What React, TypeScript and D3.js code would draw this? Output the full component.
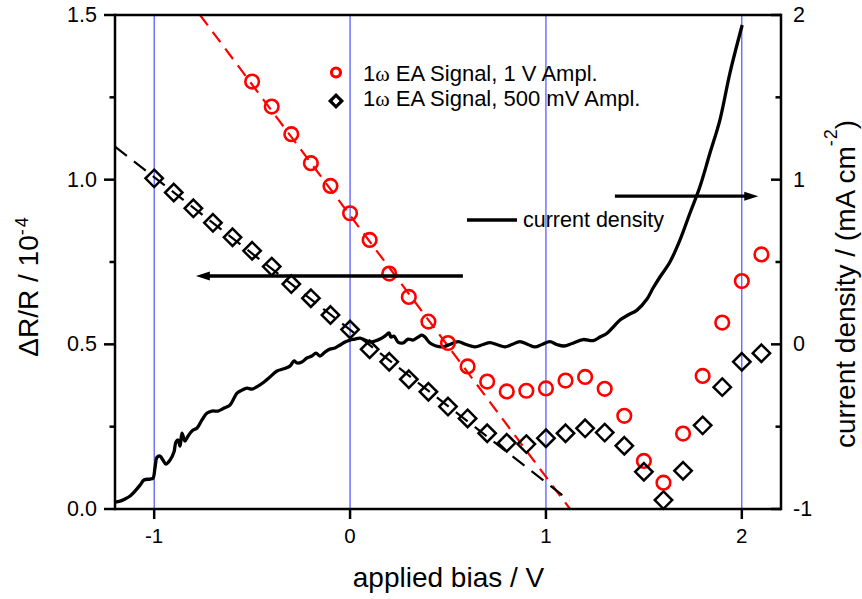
import React, { useEffect } from "react";
import * as d3 from "d3";

// ---------- data ----------
const biasCircles = [-0.5, -0.4, -0.3, -0.2, -0.1, 0, 0.1, 0.2, 0.3, 0.4, 0.5, 0.6, 0.7, 0.8, 0.9, 1.0, 1.1, 1.2, 1.3, 1.4, 1.5, 1.6, 1.7, 1.8, 1.9, 2.0, 2.1];
const signal1V = [1.298, 1.222, 1.138, 1.05, 0.981, 0.898, 0.817, 0.715, 0.644, 0.569, 0.504, 0.433, 0.387, 0.357, 0.359, 0.366, 0.39, 0.401, 0.365, 0.283, 0.146, 0.08, 0.229, 0.404, 0.566, 0.692, 0.773];

const biasDiamonds = [-1.0, -0.9, -0.8, -0.7, -0.6, -0.5, -0.4, -0.3, -0.2, -0.1, 0, 0.1, 0.2, 0.3, 0.4, 0.5, 0.6, 0.7, 0.8, 0.9, 1.0, 1.1, 1.2, 1.3, 1.4, 1.5, 1.6, 1.7, 1.8, 1.9, 2.0, 2.1];
const signal500mV = [1.004, 0.961, 0.913, 0.869, 0.825, 0.784, 0.736, 0.683, 0.64, 0.589, 0.545, 0.485, 0.447, 0.394, 0.356, 0.311, 0.275, 0.23, 0.201, 0.197, 0.215, 0.23, 0.245, 0.232, 0.192, 0.113, 0.027, 0.116, 0.254, 0.37, 0.447, 0.473];

const currentBias = [-1.2, -1.174, -1.149, -1.123, -1.098, -1.072, -1.052, -1.021, -1.006, -0.996, -0.985, -0.97, -0.955, -0.94, -0.919, -0.899, -0.889, -0.878, -0.868, -0.858, -0.843, -0.827, -0.807, -0.781, -0.756, -0.73, -0.705, -0.674, -0.643, -0.613, -0.592, -0.577, -0.552, -0.526, -0.501, -0.47, -0.439, -0.409, -0.373, -0.342, -0.307, -0.286, -0.271, -0.246, -0.22, -0.195, -0.174, -0.154, -0.128, -0.103, -0.077, -0.051, -0.026, -0.001, 0.025, 0.051, 0.076, 0.102, 0.127, 0.153, 0.178, 0.199, 0.209, 0.224, 0.245, 0.27, 0.296, 0.321, 0.347, 0.367, 0.382, 0.408, 0.439, 0.474, 0.51, 0.551, 0.592, 0.638, 0.679, 0.714, 0.755, 0.791, 0.826, 0.867, 0.908, 0.944, 0.98, 1.02, 1.056, 1.092, 1.133, 1.189, 1.24, 1.276, 1.312, 1.348, 1.378, 1.419, 1.465, 1.516, 1.547, 1.582, 1.633, 1.684, 1.735, 1.786, 1.837, 1.888, 1.939, 2.002];
const currentDensity = [-0.958, -0.952, -0.939, -0.921, -0.891, -0.855, -0.824, -0.818, -0.812, -0.751, -0.685, -0.679, -0.703, -0.727, -0.703, -0.654, -0.593, -0.581, -0.618, -0.539, -0.587, -0.557, -0.526, -0.508, -0.459, -0.417, -0.405, -0.405, -0.387, -0.369, -0.326, -0.296, -0.278, -0.266, -0.272, -0.254, -0.229, -0.199, -0.162, -0.15, -0.132, -0.101, -0.113, -0.107, -0.083, -0.071, -0.053, -0.071, -0.047, -0.029, -0.022, -0.004, 0.014, 0.026, 0.032, 0.038, 0.026, 0.014, 0.02, 0.032, 0.05, 0.069, 0.044, 0.05, 0.014, 0.008, 0.032, 0.026, 0.044, 0.056, 0.044, 0.008, -0.01, -0.015, -0.001, 0.016, -0.001, -0.015, -0.001, 0.01, -0.004, -0.015, -0.001, 0.016, -0.001, -0.015, -0.001, 0.016, -0.001, -0.01, 0.005, 0.029, 0.023, 0.044, 0.067, 0.111, 0.148, 0.178, 0.208, 0.275, 0.342, 0.409, 0.5, 0.633, 0.796, 0.957, 1.16, 1.362, 1.646, 1.939];

const fitRedBias = [-0.766, 1.123];
const fitRedSignal = [1.5, 0];
const fitBlackBias = [-1.2, 1.12];
const fitBlackSignal = [1.1, 0.025];

// annotation arrows in data units
const leftArrowBias = [0.576, -0.787];
const leftArrowSignal = 0.7075;
const rightArrowBias = [1.352, 2.084];
const rightArrowDensity = 0.9;

const xTicks = [-1, 0, 1, 2];
const xTickLabels = ["-1", "0", "1", "2"];
const leftTicks = [0, 0.5, 1.0, 1.5];
const leftTickLabels = ["0.0", "0.5", "1.0", "1.5"];
const leftMinor = [0.25, 0.75, 1.25];
const rightTicks = [-1, 0, 1, 2];
const rightTickLabels = ["-1", "0", "1", "2"];
const rightMinor = [-0.5, 0.5, 1.5];
const gridBias = [-1, 0, 1, 2];

const legendLabels = ["EA Signal, 1 V Ampl.", "EA Signal, 500 mV Ampl."];

// ---------- layout ----------
const W = 862;
const H = 599;
const L = 115;
const R = 781;
const T = 15;
const B = 509;
const FONT = "'Liberation Sans', Arial, Helvetica, sans-serif";

export default function App() {
  useEffect(() => {
    document.body.style.margin = "0";
  }, []);

  const x = d3.scaleLinear().domain([-1.2, 2.2]).range([L, R]);
  const yL = d3.scaleLinear().domain([0, 1.5]).range([B, T]);
  const yR = d3.scaleLinear().domain([-1, 2]).range([B, T]);

  const curveLine = d3
    .line<number>()
    .x((_, i) => x(currentBias[i]))
    .y((d) => yR(d))
    .curve(d3.curveCatmullRom.alpha(0.5));
  const curvePath = curveLine(currentDensity) || "";

  const fitLine = (bx: number[], by: number[]) =>
    d3.line<number>().x((_, i) => x(bx[i])).y((d) => yL(d))(by) || "";

  const diamond = (cx: number, cy: number, h: number) =>
    `M${cx},${cy - h}L${cx + h},${cy}L${cx},${cy + h}L${cx - h},${cy}Z`;

  const la0 = x(leftArrowBias[0]);
  const la1 = x(leftArrowBias[1]);
  const lay = yL(leftArrowSignal);
  const ra0 = x(rightArrowBias[0]);
  const ra1 = x(rightArrowBias[1]);
  const ray = yR(rightArrowDensity);

  return (
    <svg
      width={W}
      height={H}
      viewBox={`0 0 ${W} ${H}`}
      style={{ display: "block", background: "#fff" }}
      fontFamily={FONT}
    >
      <rect x={0} y={0} width={W} height={H} fill="#fff" />
      {/* grid lines */}
      {gridBias.map((g) => (
        <line key={g} x1={x(g)} x2={x(g)} y1={T} y2={B} stroke="#2b2bff" strokeWidth={1} />
      ))}

      {/* fit lines */}
      <path d={fitLine(fitRedBias, fitRedSignal)} fill="none" stroke="#ff0000" strokeWidth={2.2} strokeDasharray="13,8" />
      <path d={fitLine(fitBlackBias, fitBlackSignal)} fill="none" stroke="#000" strokeWidth={2.2} strokeDasharray="15,9" />

      {/* current density */}
      <path d={curvePath} fill="none" stroke="#000" strokeWidth={3.3} strokeLinejoin="round" />

      {/* markers */}
      {biasCircles.map((b, i) => (
        <circle key={"c" + i} cx={x(b)} cy={yL(signal1V[i])} r={6.8} fill="none" stroke="#ff0000" strokeWidth={2.6} />
      ))}
      {biasDiamonds.map((b, i) => (
        <path key={"d" + i} d={diamond(x(b), yL(signal500mV[i]), 8.7)} fill="none" stroke="#000" strokeWidth={2.5} />
      ))}

      {/* arrows */}
      <line x1={la0} x2={la1 + 12} y1={lay} y2={lay} stroke="#000" strokeWidth={3.3} />
      <path d={`M${la1},${lay}L${la1 + 14},${lay - 4.5}L${la1 + 14},${lay + 4.5}Z`} fill="#000" />
      <line x1={ra0} x2={ra1 - 12} y1={ray} y2={ray} stroke="#000" strokeWidth={3.3} />
      <path d={`M${ra1},${ray}L${ra1 - 14},${ray - 4.5}L${ra1 - 14},${ray + 4.5}Z`} fill="#000" />

      {/* frame */}
      <line x1={L} x2={R} y1={T} y2={T} stroke="#000" strokeWidth={2.5} />
      <line x1={L} x2={R} y1={B} y2={B} stroke="#000" strokeWidth={2.5} />
      <line x1={L} x2={L} y1={T - 1.2} y2={B + 1.2} stroke="#000" strokeWidth={2.5} />
      <line x1={R} x2={R} y1={T - 1.2} y2={B + 1.2} stroke="#000" strokeWidth={2.5} />

      {/* bottom ticks */}
      {xTicks.map((t, i) => (
        <g key={"xt" + t}>
          <line x1={x(t)} x2={x(t)} y1={B} y2={B + 10} stroke="#000" strokeWidth={2.5} />
          <text x={x(t)} y={543} fontSize={20.5} textAnchor="middle">{xTickLabels[i]}</text>
        </g>
      ))}

      {/* left ticks */}
      {leftTicks.map((t, i) => (
        <g key={"lt" + t}>
          <line x1={L - 11} x2={L} y1={yL(t)} y2={yL(t)} stroke="#000" strokeWidth={2.5} />
          <text x={97} y={yL(t)} fontSize={21.5} textAnchor="end" dominantBaseline="central">{leftTickLabels[i]}</text>
        </g>
      ))}
      {leftMinor.map((t) => (
        <line key={"lm" + t} x1={L - 5.5} x2={L} y1={yL(t)} y2={yL(t)} stroke="#000" strokeWidth={2.5} />
      ))}

      {/* right ticks (inward) */}
      {rightTicks.map((t, i) => (
        <g key={"rt" + t}>
          <line x1={R - 10} x2={R} y1={yR(t)} y2={yR(t)} stroke="#000" strokeWidth={2.5} />
          <text x={793} y={yR(t)} fontSize={21.5} textAnchor="start" dominantBaseline="central">{rightTickLabels[i]}</text>
        </g>
      ))}
      {rightMinor.map((t) => (
        <line key={"rm" + t} x1={R - 5.5} x2={R} y1={yR(t)} y2={yR(t)} stroke="#000" strokeWidth={2.5} />
      ))}

      {/* axis titles */}
      <text x={448.5} y={587} fontSize={28} textAnchor="middle">applied bias / V</text>
      <text transform="translate(38,287) rotate(-90)" fontSize={28} textAnchor="middle">
        ΔR/R / 10<tspan fontSize={18} dy={-10}>-</tspan><tspan fontSize={18} dx={2}>4</tspan>
      </text>
      <text transform="translate(855,284) rotate(-90)" fontSize={28} textAnchor="middle">
        current density / (mA cm<tspan fontSize={18} dy={-18}>-</tspan><tspan fontSize={18} dx={1}>2</tspan><tspan dy={18}>)</tspan>
      </text>

      {/* legend */}
      <circle cx={336} cy={72.5} r={4.5} fill="none" stroke="#ff0000" strokeWidth={3.2} />
      <path d={diamond(336, 101, 5.8)} fill="none" stroke="#000" strokeWidth={3.2} />
      {legendLabels.map((lab, i) => (
        <text key={lab} x={363} y={81 + i * 24.5} fontSize={22}>
          1<tspan fontFamily="'Liberation Serif', 'Times New Roman', serif">ω</tspan> {lab}
        </text>
      ))}
      <line x1={467} x2={517} y1={220} y2={220} stroke="#000" strokeWidth={3.3} />
      <text x={523} y={226.5} fontSize={21.5}>current density</text>
    </svg>
  );
}
